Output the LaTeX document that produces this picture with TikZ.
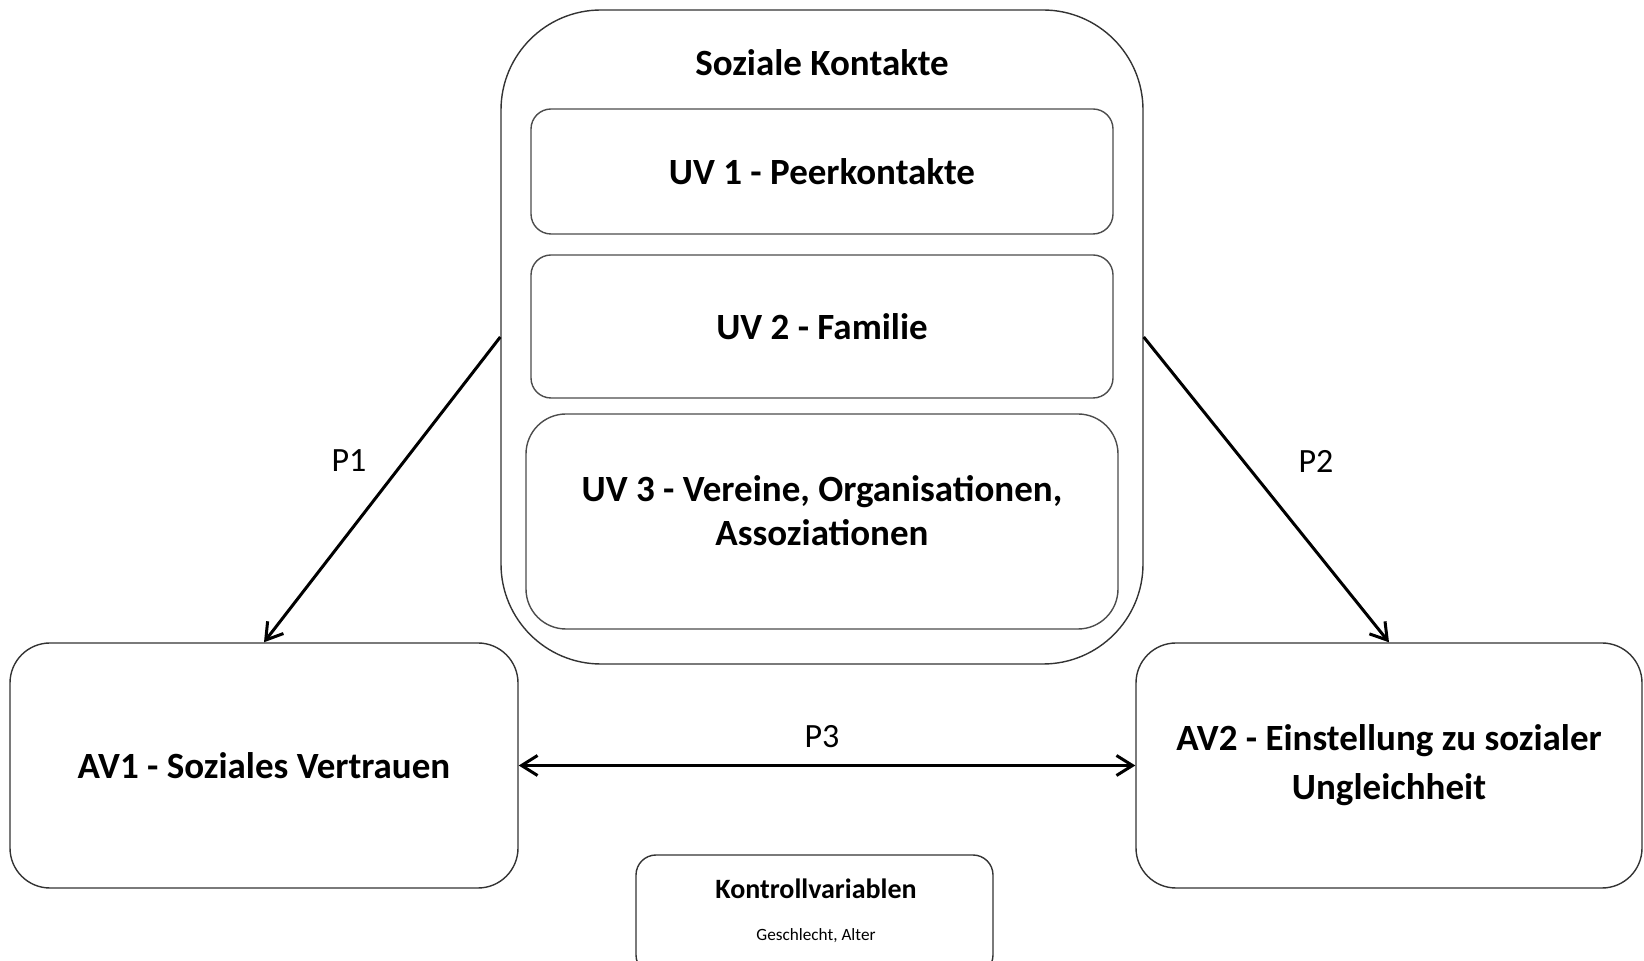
\documentclass[tikz,border=0pt]{standalone}
\usepackage{fontspec}
\setmainfont{Carlito}
\usetikzlibrary{arrows.meta}
\begin{document}
\begin{tikzpicture}[x=0.5pt,y=-0.5pt,
  box/.style={draw=black!80, line width=0.7pt, rounded corners=#1, inner sep=0pt, align=center},
  box/.default=10pt,
  big/.style={font=\fontsize{18.5}{22}\selectfont\bfseries},
  lab/.style={font=\fontsize{17}{20}\selectfont},
  arr/.style={line width=1.5pt, -{Straight Barb[length=8pt,width=10pt,line width=1.5pt]}},
  darr/.style={line width=1.5pt, {Straight Barb[length=8pt,width=10pt,line width=1.5pt]}-{Straight Barb[length=8pt,width=10pt,line width=1.5pt]}}]
\useasboundingbox (0,0) rectangle (1644,961);
\node[box=50pt, minimum width=321pt, minimum height=327pt] (outer) at (822,337) {};
\node[big] (title) at (822,63) {Soziale Kontakte};
\node[box=10pt, draw=black!70, minimum width=291pt, minimum height=62.5pt, big] (uv1) at (822,171.5) {UV 1 - Peerkontakte};
\node[box=10pt, draw=black!70, minimum width=291pt, minimum height=71.5pt, big] (uv2) at (822,326.5) {UV 2 - Familie};
\node[box=20pt, draw=black!70, minimum width=296pt, minimum height=107.5pt] (uv3) at (822,521.5) {};
\node[big, align=center] (uv3t) at (822,511) {UV 3 - Vereine, Organisationen,\\Assoziationen};
\node[box=20pt, minimum width=254pt, minimum height=122.5pt, big] (av1) at (264,765.5) {AV1 - Soziales Vertrauen};
\node[box=20pt, minimum width=253pt, minimum height=122.5pt, font=\fontsize{18.5}{24.5}\selectfont\bfseries] (av2) at (1389,765.5) {AV2 - Einstellung zu sozialer\\Ungleichheit};
\node[box=10pt, minimum width=178.5pt, minimum height=60pt] (kontr) at (814.5,915) {};
\node[font=\fontsize{14}{17}\selectfont\bfseries] (kt) at (816,889) {Kontrollvariablen};
\node[font=\fontsize{8.6}{10}\selectfont] (kg) at (816,936) {Geschlecht, Alter};
\draw[arr] (outer.west) -- (av1.north);
\draw[arr] (outer.east) -- (av2.north);
\draw[darr] (av1.east) -- (av2.west);
\node[lab] (p1) at (349,461) {P1};
\node[lab] (p2) at (1316,461) {P2};
\node[lab] (p3) at (822,737) {P3};
\end{tikzpicture}
\end{document}
